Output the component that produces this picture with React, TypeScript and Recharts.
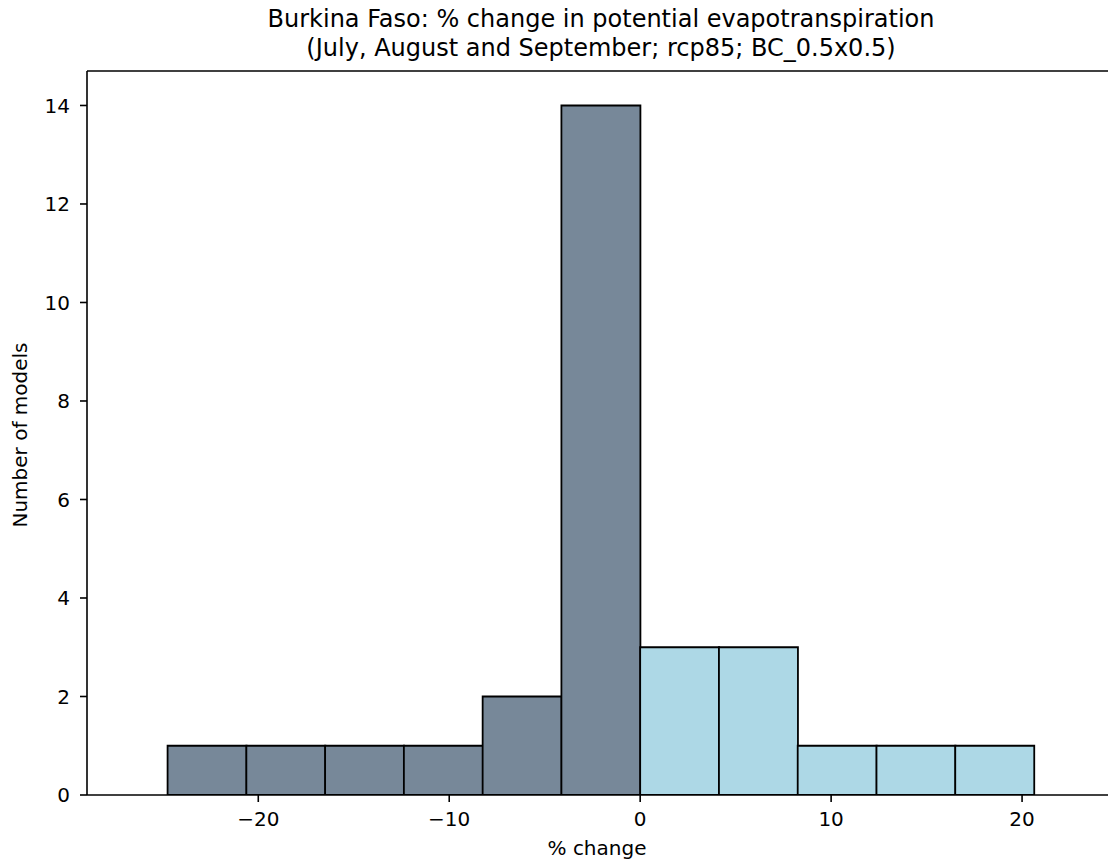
import React from 'react';
import { BarChart, Bar, Cell, XAxis, YAxis, ReferenceLine } from 'recharts';

// histogram bins (% change) and number of models per bin
const binEdges = [-24.75, -20.625, -16.5, -12.375, -8.25, -4.125, 0, 4.125, 8.25, 12.375, 16.5, 20.625];
const modelCounts = [1, 1, 1, 1, 2, 14, 3, 3, 1, 1, 1];
const xTicks = [-20, -10, 0, 10, 20];
const yTicks = [0, 2, 4, 6, 8, 10, 12, 14];
const xDomain = [-28.97, 24.5];
const yDomain = [0, 14.7];

const titleLines = [
  'Burkina Faso: % change in potential evapotranspiration',
  '(July, August and September; rcp85; BC_0.5x0.5)',
];

const data = modelCounts.map((count, i) => ({
  mid: (binEdges[i] + binEdges[i + 1]) / 2,
  count,
}));

const FONT = '"DejaVu Sans", sans-serif';
const fmt = (v: number) => String(v).replace('-', '\u2212');

export default function App() {
  return (
    <div style={{ position: 'absolute', left: 0, top: 0, width: 1110, height: 865, overflow: 'hidden', background: '#fff', fontFamily: FONT }}>
      <BarChart
        width={1110}
        height={865}
        data={data}
        margin={{ top: 71, right: 2, bottom: 0, left: 0 }}
        barCategoryGap={0}
        barGap={0}
      >
        <XAxis
          dataKey="mid"
          type="number"
          domain={xDomain}
          allowDataOverflow
          ticks={xTicks}
          tickFormatter={fmt}
          height={70}
          tickSize={7}
          tickMargin={10}
          axisLine={{ stroke: '#000', strokeWidth: 1.6 }}
          tickLine={{ stroke: '#000', strokeWidth: 1.6 }}
          tick={{ fontSize: 20, fill: '#000', fontFamily: FONT }}
        />
        <YAxis
          type="number"
          domain={yDomain}
          allowDataOverflow
          ticks={yTicks}
          width={87}
          tickSize={7}
          tickMargin={10}
          axisLine={{ stroke: '#000', strokeWidth: 1.6 }}
          tickLine={{ stroke: '#000', strokeWidth: 1.6 }}
          tick={{ fontSize: 20, fill: '#000', fontFamily: FONT }}
        />
        {/* top spine */}
        <ReferenceLine y={yDomain[1]} stroke="#000" strokeWidth={1.6} />
        <Bar dataKey="count" stroke="#000" strokeWidth={1.8} isAnimationActive={false}>
          {data.map((d, i) => (
            <Cell key={i} fill={d.mid < 0 ? '#778899' : '#add8e6'} />
          ))}
        </Bar>
      </BarChart>
      <svg width={1110} height={865} style={{ position: 'absolute', left: 0, top: 0, pointerEvents: 'none' }}>
        <g fontFamily={FONT} fill="#000">
          <text x={601} y={27} fontSize={24} textAnchor="middle">{titleLines[0]}</text>
          <text x={601} y={55.5} fontSize={24} textAnchor="middle">{titleLines[1]}</text>
          <text x={597} y={855} fontSize={20} textAnchor="middle">% change</text>
          <text x={27} y={435} fontSize={20} textAnchor="middle" transform="rotate(-90, 27, 435)">Number of models</text>
        </g>
      </svg>
    </div>
  );
}
